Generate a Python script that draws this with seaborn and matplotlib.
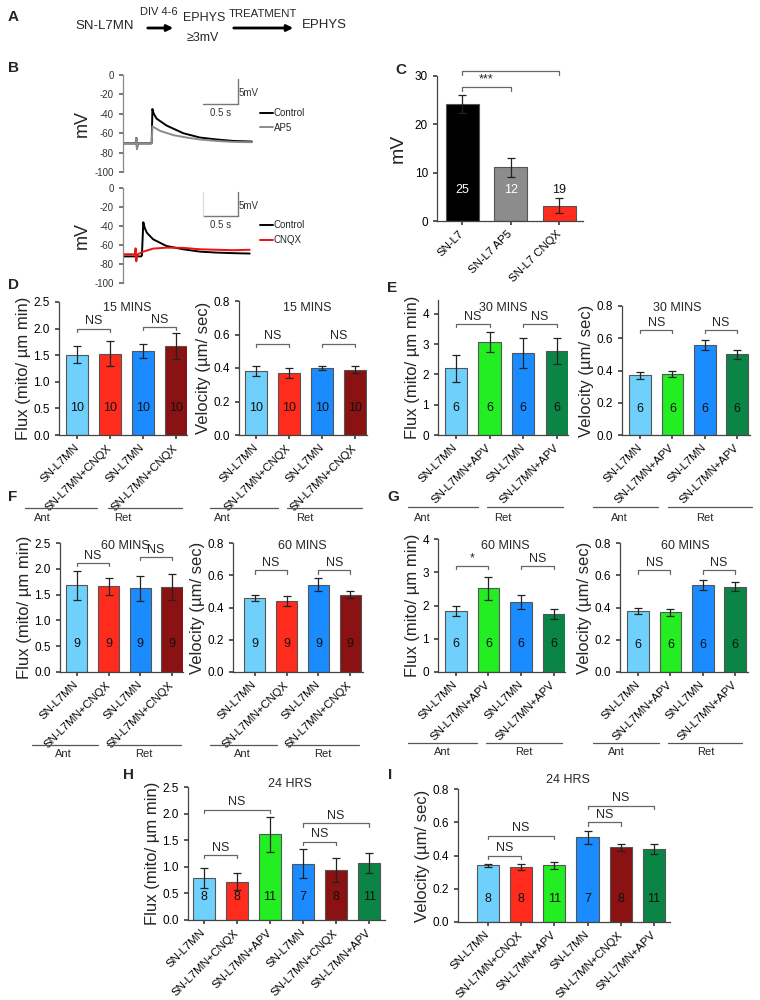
import numpy as np
import pandas as pd
import seaborn as sns
import matplotlib.pyplot as plt
import matplotlib.transforms as mtransforms
from matplotlib.lines import Line2D
from matplotlib.patches import FancyArrowPatch

# ---- data ----
# B: example EPSP traces (time s, mV)
top_ctrl_t = [0, 0.18, 0.19, 0.20, 0.21, 0.40, 0.41, 0.42, 0.44, 0.48, 0.62, 0.86, 1.10, 1.34, 1.58, 1.84]
top_ctrl_v = [-70.5, -70.5, -65, -76, -70.5, -70.5, -70, -35, -40, -45, -52, -60, -64.5, -66.5, -68, -68.6]
top_ap5_t = [0, 0.18, 0.19, 0.20, 0.21, 0.40, 0.41, 0.42, 0.53, 0.72, 0.91, 1.10, 1.34, 1.58, 1.84]
top_ap5_v = [-70.7, -70.7, -65.5, -76, -70.7, -70.7, -70.5, -53, -57.6, -62, -64.5, -66.5, -68, -69, -69.3]
bot_ctrl_t = [0, 0.26, 0.27, 0.29, 0.31, 0.34, 0.43, 0.62, 0.86, 1.10, 1.34, 1.58, 1.81]
bot_ctrl_v = [-72, -72, -71, -36, -42, -47, -54, -61, -64.5, -67, -68, -68.6, -69]
bot_cnqx_t = [0, 0.17, 0.18, 0.19, 0.20, 0.21, 0.29, 0.43, 0.62, 0.86, 1.10, 1.34, 1.58, 1.81]
bot_cnqx_v = [-69.7, -69.7, -63.5, -77.2, -72, -69.7, -67, -63.8, -62.8, -63, -64.5, -65, -65.5, -65]

# C: EPSP amplitude
c_labels = ['SN-L7', 'SN-L7 AP5', 'SN-L7 CNQX']
c_vals = [24.2, 11.1, 3.2]
c_errs = [1.8, 2.0, 1.5]
c_n = [25, 12, 19]

lab4_cnqx = ['SN-L7MN', 'SN-L7MN+CNQX', 'SN-L7MN', 'SN-L7MN+CNQX']
lab4_apv = ['SN-L7MN', 'SN-L7MN+APV', 'SN-L7MN', 'SN-L7MN+APV']
lab6 = ['SN-L7MN', 'SN-L7MN+CNQX', 'SN-L7MN+APV', 'SN-L7MN', 'SN-L7MN+CNQX', 'SN-L7MN+APV']

# D: 15 min CNQX
d_flux = [1.51, 1.53, 1.58, 1.67]
d_flux_err = [0.16, 0.23, 0.13, 0.25]
d_vel = [0.38, 0.37, 0.40, 0.39]
d_vel_err = [0.03, 0.03, 0.01, 0.02]
d_n = [10, 10, 10, 10]

# E: 30 min APV
e_flux = [2.2, 3.07, 2.7, 2.76]
e_flux_err = [0.45, 0.33, 0.5, 0.43]
e_vel = [0.37, 0.38, 0.56, 0.50]
e_vel_err = [0.02, 0.02, 0.03, 0.03]
e_n = [6, 6, 6, 6]

# F: 60 min CNQX
f_flux = [1.68, 1.66, 1.62, 1.64]
f_flux_err = [0.28, 0.17, 0.25, 0.25]
f_vel = [0.46, 0.44, 0.54, 0.48]
f_vel_err = [0.02, 0.03, 0.04, 0.02]
f_n = [9, 9, 9, 9]

# G: 60 min APV
g_flux = [1.82, 2.52, 2.1, 1.74]
g_flux_err = [0.15, 0.35, 0.22, 0.15]
g_vel = [0.38, 0.37, 0.54, 0.53]
g_vel_err = [0.02, 0.02, 0.03, 0.03]
g_n = [6, 6, 6, 6]

# H / I: 24 hrs
h_flux = [0.79, 0.72, 1.61, 1.06, 0.94, 1.07]
h_flux_err = [0.19, 0.16, 0.33, 0.27, 0.22, 0.19]
i_vel = [0.34, 0.33, 0.34, 0.51, 0.45, 0.44]
i_vel_err = [0.01, 0.02, 0.02, 0.04, 0.02, 0.03]
hi_n = [8, 8, 11, 7, 8, 11]

LBLUE, RED, BLUE, DRED, GREEN, DGREEN = '#6fd0fb', '#ff2b1c', '#1a8cff', '#8b1212', '#22ee22', '#0b8545'
cols_cnqx = [LBLUE, RED, BLUE, DRED]
cols_apv = [LBLUE, GREEN, BLUE, DGREEN]
cols6 = [LBLUE, RED, GREEN, BLUE, DRED, DGREEN]

FLUX = 'Flux (mito/ µm min)'
VEL = 'Velocity (µm/ sec)'

# ---- style ----
sns.set_theme(style='ticks')
plt.rcParams['font.family'] = ['Liberation Sans', 'DejaVu Sans']
plt.rcParams['axes.unicode_minus'] = False
plt.rcParams['axes.edgecolor'] = '#444444'
plt.rcParams['axes.linewidth'] = 0.9
plt.rcParams['xtick.color'] = '#444444'
plt.rcParams['ytick.color'] = '#444444'
plt.rcParams['xtick.labelcolor'] = 'black'
plt.rcParams['ytick.labelcolor'] = 'black'
plt.rcParams['xtick.major.size'] = 3
plt.rcParams['ytick.major.size'] = 3
plt.rcParams['xtick.labelsize'] = 8.2
plt.rcParams['ytick.labelsize'] = 8.5

W, H = 760, 1000
fig = plt.figure(figsize=(7.6, 10), dpi=100)


def rect(l, t, r, b):
    return [l / W, 1 - b / H, (r - l) / W, (b - t) / H]


def ftext(x, y, s, **kw):
    fig.text(x / W, 1 - y / H, s, **kw)


def fline(x1, x2, y, color='#555555'):
    fig.add_artist(Line2D([x1 / W, x2 / W], [1 - y / H, 1 - y / H], color=color, lw=0.9))


def bar_panel(box, labels, vals, errs, ns, colors, ylim, yticks, fmt, ylabel, brackets, xlim,
              nfrac=0.2, ncolors=None, width=0.67):
    ax = fig.add_axes(rect(*box))
    keys = [str(i) for i in range(len(vals))]
    df = pd.DataFrame({'key': keys, 'val': vals})
    sns.barplot(data=df, x='key', y='val', hue='key', palette=dict(zip(keys, colors)), legend=False,
                width=width, edgecolor='#555555', linewidth=0.8, errorbar=None, saturation=1, ax=ax)
    ax.errorbar(np.arange(len(vals)), vals, yerr=errs, fmt='none', ecolor='#222222',
                elinewidth=0.9, capsize=3, capthick=0.9)
    ax.set_ylim(*ylim)
    ax.set_yticks(yticks)
    ax.set_yticklabels([fmt.format(v) for v in yticks])
    ax.set_xlim(*xlim)
    ax.set_xticks(range(len(vals)))
    ax.set_xticklabels(labels, rotation=45, ha='right', va='center', rotation_mode='anchor')
    ax.tick_params(axis='x', pad=5)
    ax.set_xlabel('')
    ax.set_ylabel(ylabel, fontsize=12, labelpad=2)
    sns.despine(ax=ax)
    trans = mtransforms.blended_transform_factory(ax.transData, ax.transAxes)
    if ncolors is None:
        ncolors = ['#111111'] * len(vals)
    for i, n in enumerate(ns):
        ax.text(i, nfrac, str(n), transform=trans, ha='center', va='center', fontsize=9, color=ncolors[i])
    tick = 0.025 * (ylim[1] - ylim[0])
    for a, b, h, s in brackets:
        ax.plot([a, a, b, b], [h - tick, h, h, h - tick], color='#666666', lw=0.9, clip_on=False)
        ax.annotate(s, ((a + b) / 2, h), xytext=(0, 1), textcoords='offset points',
                    ha='center', va='bottom', fontsize=9)
    return ax


# ---- A ----
ftext(8, 17, 'A', fontsize=11, fontweight='bold', va='center')
ftext(105, 26, 'SN-L7MN', fontsize=9.5, ha='center', va='center')
ftext(159, 12, 'DIV 4-6', fontsize=8, ha='center', va='center')
ftext(204, 18, 'EPHYS', fontsize=9, ha='center', va='center')
ftext(203, 38, '≥3mV', fontsize=9, ha='center', va='center')
ftext(263, 14, 'TREATMENT', fontsize=8.2, ha='center', va='center')
ftext(324, 25, 'EPHYS', fontsize=9.5, ha='center', va='center')
for x1, x2 in [(145, 176), (231, 296)]:
    fig.add_artist(FancyArrowPatch(
        (x1 / W, 1 - 28 / H), (x2 / W, 1 - 28 / H), transform=fig.transFigure,
        arrowstyle='-|>', mutation_scale=9, lw=2, color='black'))

# ---- B ----
ftext(8, 68, 'B', fontsize=11, fontweight='bold', va='center')
trace_sets = [
    ((123, 75, 256, 172), [(top_ctrl_t, top_ctrl_v, 'Control', 'black'),
                           (top_ap5_t, top_ap5_v, 'AP5', '#8a8a8a')]),
    ((123, 188, 256, 283), [(bot_ctrl_t, bot_ctrl_v, 'Control', 'black'),
                            (bot_cnqx_t, bot_cnqx_v, 'CNQX', '#ee1111')]),
]
for k, (box, traces) in enumerate(trace_sets):
    ax = fig.add_axes(rect(*box))
    for t, v, lab, col in traces:
        sns.lineplot(x=t, y=v, color=col, lw=1.4, label=lab, ax=ax, sort=False)
    ax.set_xlim(0, 1.9)
    ax.set_ylim(-100, 0)
    ax.set_yticks([0, -20, -40, -60, -80, -100])
    ax.tick_params(axis='y', labelsize=7, length=3, colors='#666666', labelcolor='#333333')
    ax.set_xticks([])
    for sp in ['top', 'right', 'bottom']:
        ax.spines[sp].set_visible(False)
    ax.spines['left'].set_color('#888888')
    ax.set_ylabel('mV', fontsize=13, labelpad=3)
    # scale bar
    sb_col = '#777777'
    ax.plot([1.64, 1.64], [-4, -30], color=sb_col, lw=1)
    ax.plot([1.14, 1.64], [-30, -30], color=sb_col, lw=1)
    if k == 1:
        ax.plot([1.14, 1.14], [-4, -30], color='#dddddd', lw=1)
    ax.text(1.65, -19, '5mV', fontsize=7, va='center', ha='left', color='#333333')
    ax.text(1.39, -39, '0.5 s', fontsize=7, va='center', ha='center', color='#333333')
    ax.legend(loc='upper left', bbox_to_anchor=(1.0, 0.7), frameon=False, fontsize=7,
              handlelength=1.3, handletextpad=0.1, labelspacing=0.5, borderaxespad=0)

# ---- C ----
ftext(395, 70, 'C', fontsize=11, fontweight='bold', va='center')
axc = bar_panel((437, 76, 583, 221), c_labels, c_vals, c_errs, c_n, ['black', '#8c8c8c', RED],
                (0, 30), [0, 10, 20, 30], '{:.0f}', 'mV',
                [(0, 1, 27.7, '***'), (0, 2, 31.0, '***')], (-0.52, 2.49),
                nfrac=0.213, ncolors=['white', 'white', '#111111'], width=0.68)
axc.set_ylabel('mV', fontsize=14, labelpad=6)

# ---- D ----
ftext(8, 285, 'D', fontsize=11, fontweight='bold', va='center')
bar_panel((59, 302, 187, 435), lab4_cnqx, d_flux, d_flux_err, d_n, cols_cnqx,
          (0, 2.5), [0, 0.5, 1.0, 1.5, 2.0, 2.5], '{:.1f}', FLUX,
          [(0, 1, 2.0, 'NS'), (2, 3, 2.03, 'NS')], (-0.55, 3.34))
ftext(127, 308, '15 MINS', fontsize=9, ha='center', va='center')
bar_panel((239, 301, 367, 435), lab4_cnqx, d_vel, d_vel_err, d_n, cols_cnqx,
          (0, 0.8), [0, 0.2, 0.4, 0.6, 0.8], '{:.1f}', VEL,
          [(0, 1, 0.545, 'NS'), (2, 3, 0.545, 'NS')], (-0.52, 3.36))
ftext(307, 308, '15 MINS', fontsize=9, ha='center', va='center')

# ---- E ----
ftext(387, 288, 'E', fontsize=11, fontweight='bold', va='center')
bar_panel((438, 300, 568, 435), lab4_apv, e_flux, e_flux_err, e_n, cols_apv,
          (0, 4.46), [0, 1, 2, 3, 4], '{:.0f}', FLUX,
          [(0, 1, 3.67, 'NS'), (2, 3, 3.67, 'NS')], (-0.53, 3.33))
ftext(503, 308, '30 MINS', fontsize=9, ha='center', va='center')
bar_panel((622, 306, 750, 435), lab4_apv, e_vel, e_vel_err, e_n, cols_apv,
          (0, 0.8), [0, 0.2, 0.4, 0.6, 0.8], '{:.1f}', VEL,
          [(0, 1, 0.65, 'NS'), (2, 3, 0.65, 'NS')], (-0.56, 3.4))
ftext(677, 308, '30 MINS', fontsize=9, ha='center', va='center')

# ---- F ----
ftext(8, 497, 'F', fontsize=11, fontweight='bold', va='center')
bar_panel((60, 543, 183, 672), lab4_cnqx, f_flux, f_flux_err, f_n, cols_cnqx,
          (0, 2.5), [0, 0.5, 1.0, 1.5, 2.0, 2.5], '{:.1f}', FLUX,
          [(0, 1, 2.11, 'NS'), (2, 3, 2.23, 'NS')], (-0.53, 3.35), nfrac=0.22)
ftext(125, 546, '60 MINS', fontsize=9, ha='center', va='center')
bar_panel((233, 543, 363, 672), lab4_cnqx, f_vel, f_vel_err, f_n, cols_cnqx,
          (0, 0.8), [0, 0.2, 0.4, 0.6, 0.8], '{:.1f}', VEL,
          [(0, 1, 0.63, 'NS'), (2, 3, 0.63, 'NS')], (-0.68, 3.4), nfrac=0.22)
ftext(302, 546, '60 MINS', fontsize=9, ha='center', va='center')

# ---- G ----
ftext(387, 497, 'G', fontsize=11, fontweight='bold', va='center')
bar_panel((438, 539, 565, 672), lab4_apv, g_flux, g_flux_err, g_n, cols_apv,
          (0, 4), [0, 1, 2, 3, 4], '{:.0f}', FLUX,
          [(0, 1, 3.19, '*'), (2, 3, 3.19, 'NS')], (-0.55, 3.35), nfrac=0.21)
ftext(505, 546, '60 MINS', fontsize=9, ha='center', va='center')
bar_panel((620, 543, 748, 672), lab4_apv, g_vel, g_vel_err, g_n, cols_apv,
          (0, 0.8), [0, 0.2, 0.4, 0.6, 0.8], '{:.1f}', VEL,
          [(0, 1, 0.63, 'NS'), (2, 3, 0.63, 'NS')], (-0.56, 3.4), nfrac=0.21)
ftext(685, 546, '60 MINS', fontsize=9, ha='center', va='center')

# Ant / Ret group lines
groups = [
    (508, 518, [(25, 97, 42, 'Ant'), (108, 182, 123, 'Ret'), (210, 278, 222, 'Ant'), (287, 362, 305, 'Ret')]),
    (507, 518, [(408, 478, 422, 'Ant'), (487, 563, 503, 'Ret'), (593, 658, 619, 'Ant'), (668, 752, 705, 'Ret')]),
    (745, 754, [(32, 98, 63, 'Ant'), (107, 181, 144, 'Ret'), (210, 277, 242, 'Ant'), (286, 359, 323, 'Ret')]),
    (743, 752, [(408, 477, 442, 'Ant'), (486, 562, 524, 'Ret'), (593, 659, 616, 'Ant'), (668, 742, 706, 'Ret')]),
]
for yl, yt, items in groups:
    for x1, x2, xt, s in items:
        fline(x1, x2, yl)
        ftext(xt, yt, s, fontsize=8, ha='center', va='center')

# ---- H ----
ftext(123, 775, 'H', fontsize=11, fontweight='bold', va='center')
bar_panel((188, 787, 385, 920), lab6, h_flux, h_flux_err, hi_n, cols6,
          (0, 2.5), [0, 0.5, 1.0, 1.5, 2.0, 2.5], '{:.1f}', FLUX,
          [(0, 1, 1.22, 'NS'), (0, 2, 2.07, 'NS'), (3, 4, 1.47, 'NS'), (3, 5, 1.82, 'NS')],
          (-0.48, 5.48), nfrac=0.17)
ftext(290, 784, '24 HRS', fontsize=9, ha='center', va='center')

# ---- I ----
ftext(388, 775, 'I', fontsize=11, fontweight='bold', va='center')
bar_panel((458, 789, 670, 922), lab6, i_vel, i_vel_err, hi_n, cols6,
          (0, 0.8), [0, 0.2, 0.4, 0.6, 0.8], '{:.1f}', VEL,
          [(0, 1, 0.40, 'NS'), (0, 2, 0.52, 'NS'), (3, 4, 0.60, 'NS'), (3, 5, 0.70, 'NS')],
          (-0.9, 5.48), nfrac=0.17)
ftext(568, 780, '24 HRS', fontsize=9, ha='center', va='center')

fig.savefig('out.png', dpi=100)
